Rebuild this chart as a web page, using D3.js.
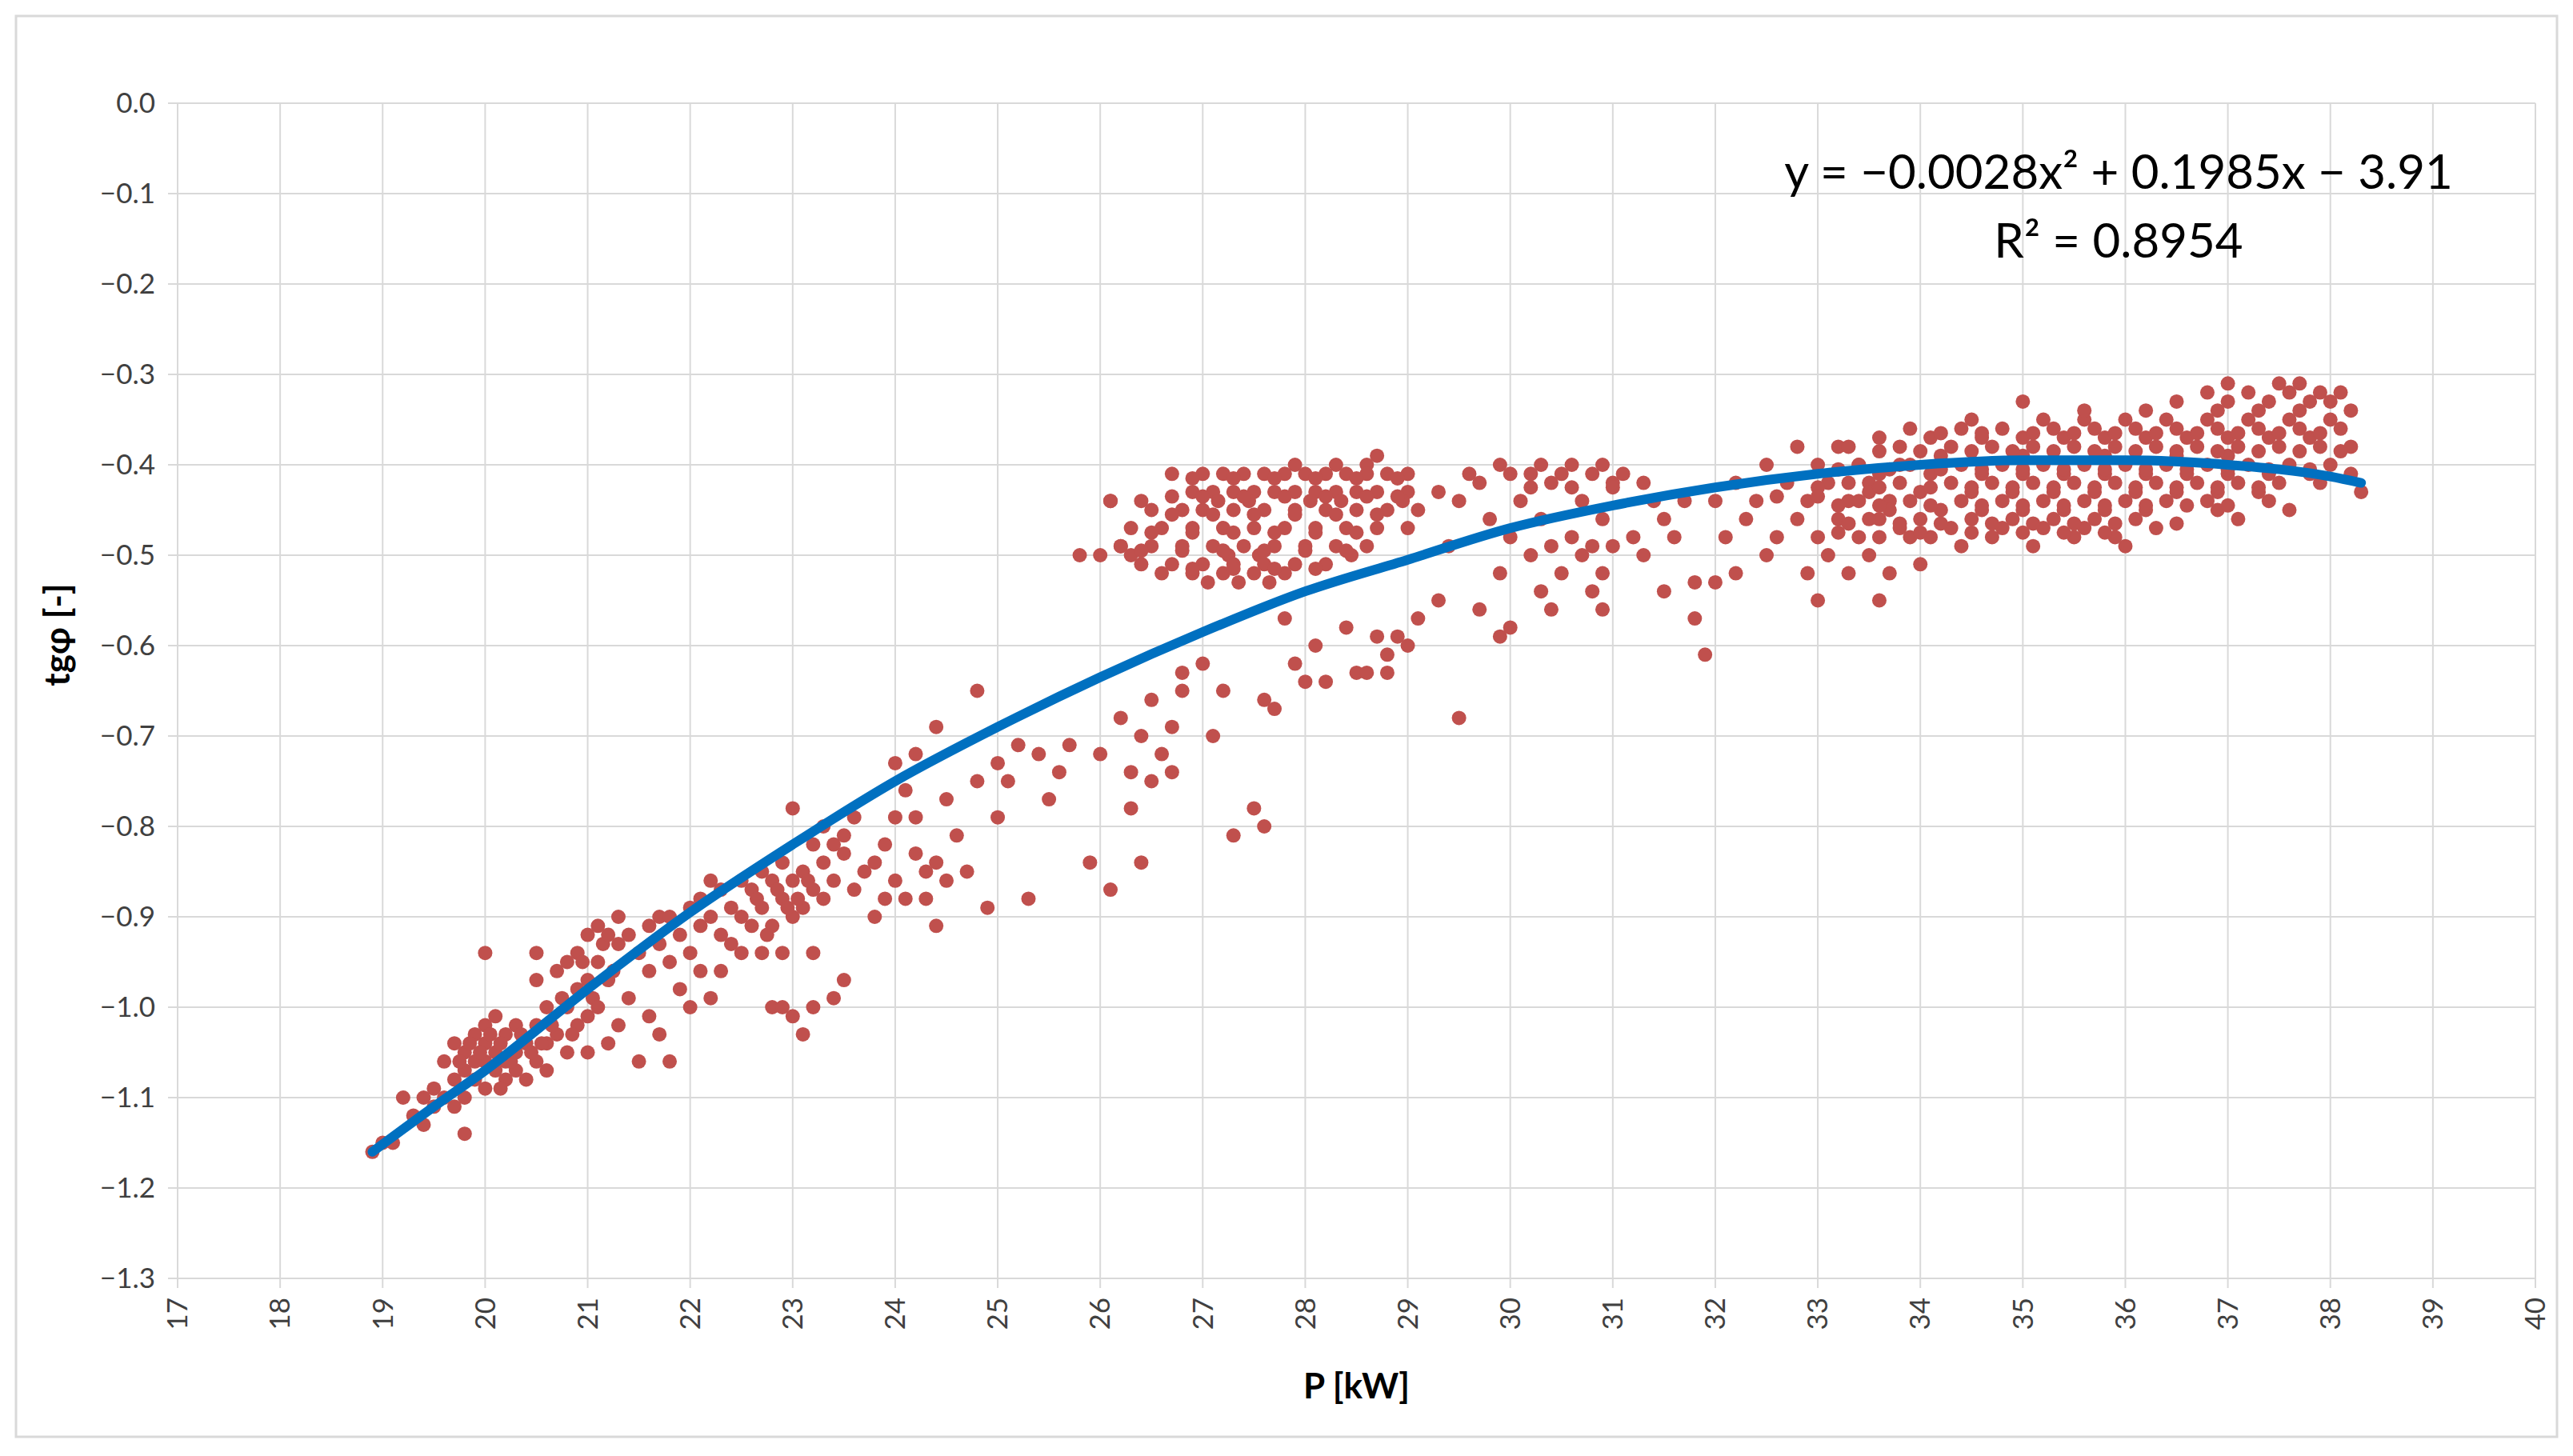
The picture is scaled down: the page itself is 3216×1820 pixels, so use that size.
<!DOCTYPE html>
<html><head><meta charset="utf-8">
<script src="https://cdn.jsdelivr.net/npm/d3@7/dist/d3.min.js"></script>
<style>body{margin:0;background:#fff}svg{display:block}</style></head>
<body><svg id="c" width="3216" height="1820"></svg>
<script>
const xTicks = d3.range(17, 41, 1);
const yTicks = [0,-0.1,-0.2,-0.3,-0.4,-0.5,-0.6,-0.7,-0.8,-0.9,-1.0,-1.1,-1.2,-1.3];
const scatterPoints = [
[18.9,-1.16],[19.0,-1.15],[19.1,-1.15],[19.2,-1.10],[19.3,-1.12],[19.4,-1.10],[19.4,-1.13],[19.5,-1.09],[19.5,-1.11],[19.6,-1.06],[19.6,-1.10],[19.7,-1.04],[19.7,-1.08],[19.7,-1.11],[19.8,-1.05],[19.8,-1.07],[19.8,-1.10],[19.8,-1.14],[19.9,-1.03],[19.9,-1.06],[19.9,-1.08],[20.0,-0.94],[20.0,-1.02],[20.0,-1.04],[20.0,-1.06],[20.0,-1.09],[20.1,-1.01],[20.1,-1.05],[20.1,-1.07],[20.2,-1.03],[20.2,-1.06],[20.2,-1.08],[20.3,-1.02],[20.3,-1.05],[20.3,-1.07],[20.4,-1.04],[20.4,-1.08],[20.5,-0.94],[20.5,-0.97],[20.5,-1.02],[20.5,-1.06],[20.6,-1.00],[20.6,-1.04],[20.6,-1.07],[20.7,-0.96],[20.7,-1.03],[20.8,-0.95],[20.8,-1.00],[20.8,-1.05],[20.9,-0.94],[20.9,-0.98],[20.9,-1.02],[21.0,-0.92],[21.0,-0.97],[21.0,-1.01],[21.0,-1.05],
[19.75,-1.06],[19.85,-1.04],[19.95,-1.05],[20.05,-1.03],[20.15,-1.04],[20.25,-1.06],[20.35,-1.03],[20.45,-1.05],[20.15,-1.09],[20.55,-1.04],[20.65,-1.02],[20.75,-0.99],[20.85,-1.03],[20.95,-0.95],[21.05,-0.99],[21.15,-0.93],[21.25,-0.96],
[21.1,-0.91],[21.1,-0.95],[21.1,-1.00],[21.2,-0.92],[21.2,-0.97],[21.2,-1.04],[21.3,-0.90],[21.3,-0.93],[21.3,-1.02],[21.4,-0.92],[21.4,-0.99],[21.5,-0.94],[21.5,-1.06],[21.6,-0.91],[21.6,-0.96],[21.6,-1.01],[21.7,-0.90],[21.7,-0.93],[21.7,-1.03],[21.8,-0.90],[21.8,-0.95],[21.8,-1.06],[21.9,-0.92],[21.9,-0.98],[22.0,-0.89],[22.0,-0.94],[22.0,-1.00],
[22.1,-0.88],[22.1,-0.91],[22.1,-0.96],[22.2,-0.86],[22.2,-0.90],[22.2,-0.99],[22.3,-0.87],[22.3,-0.92],[22.3,-0.96],[22.4,-0.89],[22.4,-0.93],[22.5,-0.86],[22.5,-0.90],[22.5,-0.94],[22.6,-0.87],[22.6,-0.91],[22.7,-0.85],[22.7,-0.89],[22.7,-0.94],[22.8,-0.86],[22.8,-0.91],[22.8,-1.00],[22.9,-0.84],[22.9,-0.88],[22.9,-0.94],[22.9,-1.00],[23.0,-0.78],[23.0,-0.86],[23.0,-0.90],[23.0,-1.01],[23.1,-0.85],[23.1,-0.89],[23.1,-1.03],[23.2,-0.82],[23.2,-0.87],[23.2,-0.94],[23.2,-1.00],[23.3,-0.80],[23.3,-0.84],[23.3,-0.88],[23.4,-0.82],[23.4,-0.86],[23.4,-0.99],[23.5,-0.81],[23.5,-0.83],[23.5,-0.97],
[22.85,-0.87],[22.95,-0.89],[23.05,-0.88],[23.15,-0.86],[22.75,-0.92],[22.65,-0.88],
[23.6,-0.79],[23.6,-0.87],[23.7,-0.85],[23.8,-0.84],[23.8,-0.90],[23.9,-0.88],[23.9,-0.82],[24.0,-0.73],[24.0,-0.79],[24.0,-0.86],[24.1,-0.76],[24.1,-0.88],[24.2,-0.72],[24.2,-0.79],[24.2,-0.83],[24.3,-0.85],[24.3,-0.88],[24.4,-0.69],[24.4,-0.84],[24.4,-0.91],[24.5,-0.77],[24.5,-0.86],[24.6,-0.81],[24.7,-0.85],[24.8,-0.65],[24.8,-0.75],[24.9,-0.89],[25.0,-0.73],[25.0,-0.79],[25.1,-0.75],
[25.2,-0.71],[25.3,-0.88],[25.4,-0.72],[25.5,-0.77],[25.6,-0.74],[25.7,-0.71],[25.8,-0.50],[25.9,-0.84],[26.0,-0.72],[26.1,-0.87],[26.1,-0.44],[26.2,-0.68],[26.2,-0.49],[26.3,-0.74],[26.3,-0.78],[26.4,-0.84],[26.4,-0.70],[26.5,-0.75],[26.5,-0.66],[26.6,-0.72],[26.7,-0.74],[26.7,-0.69],[26.8,-0.65],[26.8,-0.63],[27.0,-0.62],[27.1,-0.70],[27.2,-0.65],[27.3,-0.81],[27.5,-0.78],[27.6,-0.80],[27.6,-0.66],[27.7,-0.67],[27.8,-0.57],[27.9,-0.62],[28.0,-0.64],[28.1,-0.60],[28.2,-0.64],[28.4,-0.58],[28.5,-0.63],[28.6,-0.63],[28.7,-0.59],[28.8,-0.61],[28.8,-0.63],[28.9,-0.59],[29.0,-0.60],[29.1,-0.57],[29.5,-0.68],[29.3,-0.55]
];
const bandRows = [
[-0.39,[28.7,35.0,36.5,34.2,35.8,37.0]],[-0.40,[27.9,28.3,28.6,29.9,30.3,30.6,30.9,32.5,33.0,33.4,33.8,33.4,33.9,34.4,34.8,35.2,35.6,36.0,36.4,36.8,37.2,37.6,38.0]],
[-0.41,[26.7,27.0,27.2,27.4,27.6,27.8,28.0,28.2,28.4,28.6,28.8,29.0,29.6,30.0,30.2,30.5,30.8,31.1,33.6,34.1,34.6,35.0,35.4,35.8,36.2,36.6,37.0,37.4,37.8,38.2]],
[-0.42,[29.7,30.4,31.0,31.3,32.2,32.7,33.1,33.5,33.3,33.8,34.3,34.7,35.1,35.5,35.9,36.3,36.7,37.1,37.5,37.9]],
[-0.43,[26.9,27.1,27.3,27.5,27.7,27.9,28.1,28.3,28.5,28.7,29.0,29.3,33.5,34.0,34.5,34.9,35.3,35.7,36.1,36.5,36.9,37.3,38.3]],
[-0.44,[26.1,26.4,27.15,27.45,28.05,28.35,28.95,29.5,30.1,30.7,31.4,31.7,32.0,32.4,32.9,33.3,33.7,33.4,33.9,34.4,34.8,35.2,35.6,36.0,36.4,36.8,37.4]],
[-0.45,[26.5,26.8,27.0,27.3,27.6,27.9,28.2,28.5,28.8,29.1,33.7,34.2,34.6,35.0,35.4,35.8,36.2,36.9,37.6]],
[-0.46,[29.8,30.3,30.9,31.5,32.3,32.8,33.2,33.6,33.5,34.0,34.5,34.9,35.3,35.7,36.1,37.1]],
[-0.47,[26.3,26.6,26.9,27.2,27.5,27.8,28.1,28.4,28.7,29.0,33.8,34.3,34.8,35.2,35.6,36.3]],
[-0.48,[30.0,30.6,31.2,31.6,32.1,32.6,33.0,33.4,33.9,33.6,34.1,34.7,35.5,35.9]],
[-0.49,[26.2,26.5,26.8,27.1,27.4,27.7,28.0,28.3,28.6,29.4,30.4,30.8,31.0,34.4,35.1,36.0]],
[-0.50,[26.0,26.3,27.25,27.55,28.45,30.2,30.7,31.3,32.5,33.1,33.5]],
[-0.51,[26.4,26.7,27.0,27.3,27.6,27.9,28.2,34.0]],
[-0.52,[26.6,26.9,27.2,27.5,27.8,29.9,30.5,30.9,32.2,32.9,33.3,33.7]],
[-0.53,[27.05,27.35,27.65,31.8,32.0]],
[-0.54,[30.3,30.8,31.5]],[-0.55,[33.0,33.6]],[-0.56,[29.7,30.4,30.9]],[-0.57,[31.8]],[-0.58,[30.0]],[-0.59,[29.9]],[-0.61,[31.9]],
[-0.38,[32.8,33.2,33.3,33.8,34.3,34.7,35.1,35.5,35.9,36.3,36.7,37.1,37.5,37.9,38.2]],
[-0.37,[33.6,34.1,34.6,35.0,35.4,35.8,36.2,36.6,37.0,37.4,37.8]],
[-0.36,[33.9,34.4,34.8,35.3,35.7,36.1,36.5,36.9,37.3,37.7,38.1]],
[-0.35,[34.5,35.2,35.6,36.0,36.4,36.8,37.2,37.6,38.0]],
[-0.34,[35.6,36.2,36.9,37.3,37.7,38.2]],
[-0.33,[35.0,36.5,37.0,37.4,37.8,38.0]],
[-0.32,[36.8,37.2,37.6,37.9,38.1]],
[-0.31,[37.0,37.5,37.7]]
];
// extra filling points in dense clusters
const bandRows2 = [
[-0.365,[34.2,34.6,35.1,35.5,35.9,36.3,36.7,37.1,37.5,37.9]],
[-0.385,[33.6,34.0,34.5,34.9,35.3,35.7,36.1,36.5,36.9,37.3,37.7,38.1]],
[-0.405,[33.2,33.7,34.2,34.6,35.0,35.4,35.8,36.2,36.6,37.0,37.4,37.8]],
[-0.425,[33.0,33.6,34.1,34.5,34.9,35.3,35.7,36.1,36.5,36.9,37.3]],
[-0.445,[33.2,33.6,34.1,34.6,35.0,35.4,35.8,36.2,36.6,37.0]],
[-0.465,[33.3,33.8,34.2,34.7,35.1,35.5,35.9,36.5]],
[-0.475,[33.2,34.0,34.5,35.0,35.4,35.8]],
[-0.415,[26.9,27.3,27.7,28.1,28.5,28.9]],
[-0.435,[26.7,27.0,27.4,27.8,28.2,28.6,28.9]],
[-0.455,[26.7,27.1,27.5,27.9,28.3,28.7]],
[-0.475,[26.5,26.9,27.3,27.7,28.1,28.5]],
[-0.495,[26.4,26.8,27.2,27.6,28.0,28.4]],
[-0.515,[26.9,27.3,27.7,28.1]],
[-0.425,[30.2,30.6,31.0]],[-0.435,[32.6,33.0]]
];
const trendPoints = [[18.9,-1.16],[19.5,-1.11],[20,-1.07],[21,-0.98],[22,-0.895],[23,-0.82],[24,-0.75],[25,-0.69],[26,-0.635],[27,-0.585],[28,-0.54],[29,-0.505],[30,-0.47],[31,-0.445],[32,-0.425],[33,-0.41],[34,-0.40],[35,-0.395],[36,-0.395],[37,-0.40],[38,-0.413],[38.3,-0.42]];
const equationText = "y = −0.0028x² + 0.1985x − 3.91";
const r2Text = "R² = 0.8954";

const svg = d3.select("#c");
const L=222,R=3169,T=129,B=1598;
const x=d3.scaleLinear().domain([17,40]).range([L,R]);
const y=d3.scaleLinear().domain([-1.3,0]).range([B,T]);
svg.append("rect").attr("x",20).attr("y",20).attr("width",3176).attr("height",1776).attr("fill","#fff").attr("stroke","#D9D9D9").attr("stroke-width",3);
const font="Lato, 'Open Sans', sans-serif";
svg.append("g").selectAll("line").data(xTicks).join("line").attr("x1",d=>x(d)).attr("x2",d=>x(d)).attr("y1",T).attr("y2",B+12).attr("stroke","#D9D9D9").attr("stroke-width",2);
svg.append("g").selectAll("line").data(yTicks).join("line").attr("x1",L-12).attr("x2",R).attr("y1",d=>y(d)).attr("y2",d=>y(d)).attr("stroke","#D9D9D9").attr("stroke-width",2);
svg.append("g").selectAll("text").data(yTicks).join("text").attr("x",L-28).attr("y",d=>y(d)).attr("dy","0.35em").attr("text-anchor","end").attr("font-family",font).attr("font-size",35).attr("fill","#404040").text(d=>d3.format(".1f")(d).replace("-","−"));
svg.append("g").selectAll("text").data(xTicks).join("text").attr("transform",d=>`translate(${x(d)},${B+24}) rotate(-90)`).attr("dy","0.35em").attr("text-anchor","end").attr("font-family",font).attr("font-size",35).attr("fill","#404040").text(d=>d);
const col="#C0504D";
const g=svg.append("g").attr("fill",col);
g.selectAll("circle.s").data(scatterPoints).join("circle").attr("class","s").attr("cx",d=>x(d[0])).attr("cy",d=>y(d[1])).attr("r",9);
bandRows.concat(bandRows2).forEach(([yy,xs])=>{g.selectAll(null).data(xs).join("circle").attr("cx",d=>x(d)).attr("cy",y(yy)).attr("r",9);});
svg.append("path").datum(trendPoints).attr("d",d3.line().x(d=>x(d[0])).y(d=>y(d[1])).curve(d3.curveMonotoneX)).attr("fill","none").attr("stroke","#0070C0").attr("stroke-width",12).attr("stroke-linecap","round");
svg.append("text").attr("x",2648).attr("y",215).attr("dy","0.35em").attr("text-anchor","middle").attr("font-family",font).attr("font-size",60).attr("fill","#000").text(equationText);
svg.append("text").attr("x",2648).attr("y",301).attr("dy","0.35em").attr("text-anchor","middle").attr("font-family",font).attr("font-size",60).attr("fill","#000").text(r2Text);
svg.append("text").attr("x",(L+R)/2).attr("y",1733).attr("dy","0.35em").attr("text-anchor","middle").attr("font-family",font).attr("font-weight","bold").attr("font-size",44).attr("fill","#000").text("P [kW]");
svg.append("text").attr("transform",`translate(72,${(T+B)/2-70}) rotate(-90)`).attr("dy","0.35em").attr("text-anchor","middle").attr("font-family",font).attr("font-weight","bold").attr("font-size",44).attr("fill","#000").text("tgφ [-]");
</script></body></html>
